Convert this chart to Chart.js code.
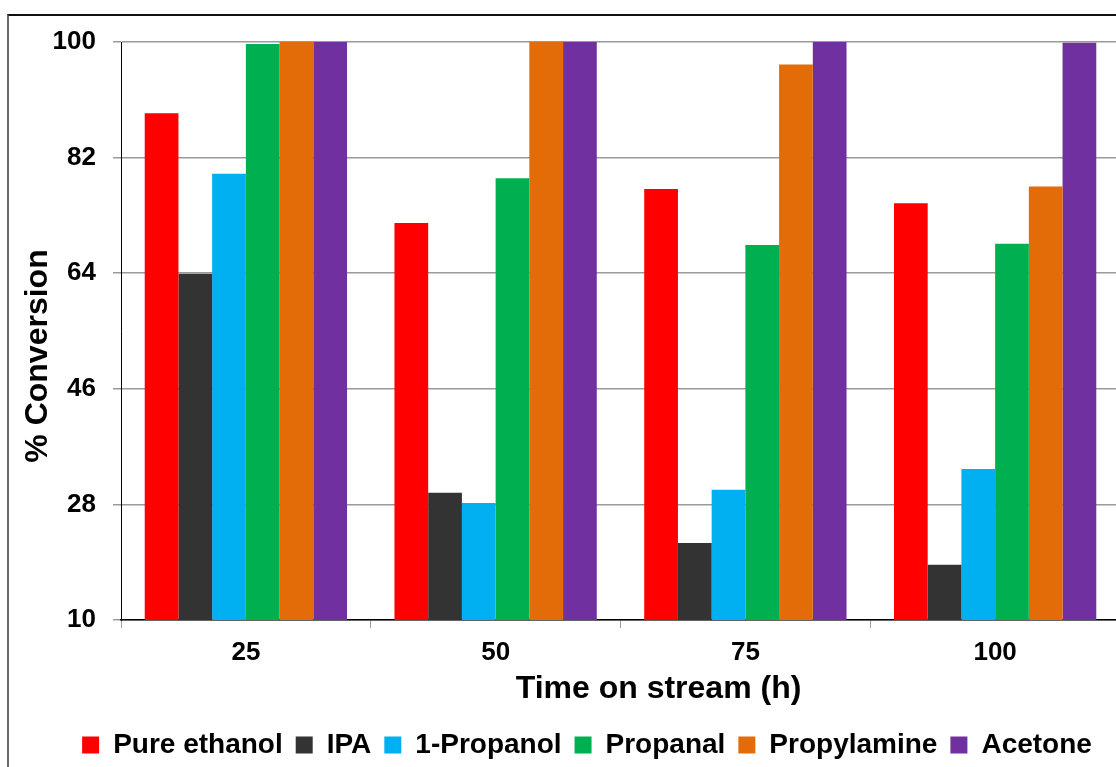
<!DOCTYPE html>
<html>
<head>
<meta charset="utf-8">
<script src="https://cdn.jsdelivr.net/npm/chart.js@4.4.1/dist/chart.umd.min.js"></script>
<style>
  html, body { margin: 0; padding: 0; background: #ffffff; overflow: hidden; width: 1116px; height: 767px; }
  #frame { position: absolute; left: 7px; top: 14px; width: 1200px; height: 900px;
           border-left: 2px solid #6a6a6a; border-top: 2px solid #111111; pointer-events: none; }
  #wrap { position: absolute; left: 0; top: 0; }
</style>
</head>
<body>
<div id="frame"></div>
<div id="wrap"><canvas id="chart" width="1120" height="770"></canvas></div>
<script>
// Conversion of each feed over time on stream
const categories = ['25', '50', '75', '100'];
const yTicks = [10, 28, 46, 64, 82, 100];

const pureEthanol = [88.9, 71.8, 77.1, 74.9];
const ipa         = [63.9, 29.8, 22.0, 18.6];
const propanol1   = [79.5, 28.2, 30.3, 33.5];
const propanal    = [99.7, 78.8, 68.4, 68.6];
const propylamine = [100, 100, 96.5, 77.5];
const acetone     = [100, 100, 100, 99.9];

const xTitle = 'Time on stream (h)';
const yTitle = '% Conversion';

const FONT = "'Liberation Sans', Arial, sans-serif";

// Axis titles, placed relative to the plot area
const axisTitles = {
  id: 'axisTitles',
  afterDraw(chart) {
    const { ctx, chartArea } = chart;
    ctx.save();
    ctx.fillStyle = '#000000';
    ctx.font = `bold 32px ${FONT}`;
    ctx.textAlign = 'center';
    ctx.textBaseline = 'middle';
    ctx.fillText(xTitle, (chartArea.left + chartArea.right) / 2 + 38, chartArea.bottom + 69);
    ctx.translate(38, (chartArea.top + chartArea.bottom) / 2 + 25);
    ctx.rotate(-Math.PI / 2);
    ctx.fillText(yTitle, 0, 0);
    ctx.restore();
  }
};

new Chart(document.getElementById('chart'), {
  type: 'bar',
  data: {
    labels: categories,
    datasets: [
      { label: 'Pure ethanol', data: pureEthanol, backgroundColor: '#FF0000' },
      { label: 'IPA',          data: ipa,         backgroundColor: '#333333' },
      { label: '1-Propanol',   data: propanol1,   backgroundColor: '#00B0F0' },
      { label: 'Propanal',     data: propanal,    backgroundColor: '#00B050' },
      { label: 'Propylamine',  data: propylamine, backgroundColor: '#E36C09' },
      { label: 'Acetone',      data: acetone,     backgroundColor: '#7030A0' }
    ]
  },
  options: {
    responsive: false,
    animation: false,
    devicePixelRatio: 1,
    layout: { padding: { left: 54, top: 42, right: 0, bottom: 1 } },
    datasets: { bar: { barPercentage: 1.0, categoryPercentage: 0.81, borderWidth: 0 } },
    scales: {
      x: {
        z: 1,
        grid: { display: true, offset: true, drawOnChartArea: false, drawTicks: true, tickLength: 8, color: '#9a9a9a', lineWidth: 1 },
        border: { display: true, color: '#000000', width: 1.5 },
        ticks: { color: '#000000', padding: 9, font: { family: FONT, size: 26, weight: 'bold' } },
        afterFit(scale) { scale.height = 98; }
      },
      y: {
        min: 10,
        max: 100,
        afterBuildTicks(scale) { scale.ticks = yTicks.map(v => ({ value: v })); },
        grid: { color: '#9a9a9a', lineWidth: 1.5, drawTicks: true, tickLength: 8 },
        border: { display: true, color: '#000000', width: 1 },
        ticks: { color: '#000000', padding: 17, font: { family: FONT, size: 26, weight: 'bold' } },
        afterFit(scale) { scale.width = 67; }
      }
    },
    plugins: {
      legend: {
        position: 'bottom',
        labels: {
          color: '#000000',
          boxWidth: 17,
          boxHeight: 17,
          padding: 13,
          font: { family: FONT, size: 28, weight: 'bold' }
        }
      },
      tooltip: { enabled: false }
    }
  },
  plugins: [axisTitles]
});
</script>
</body>
</html>
